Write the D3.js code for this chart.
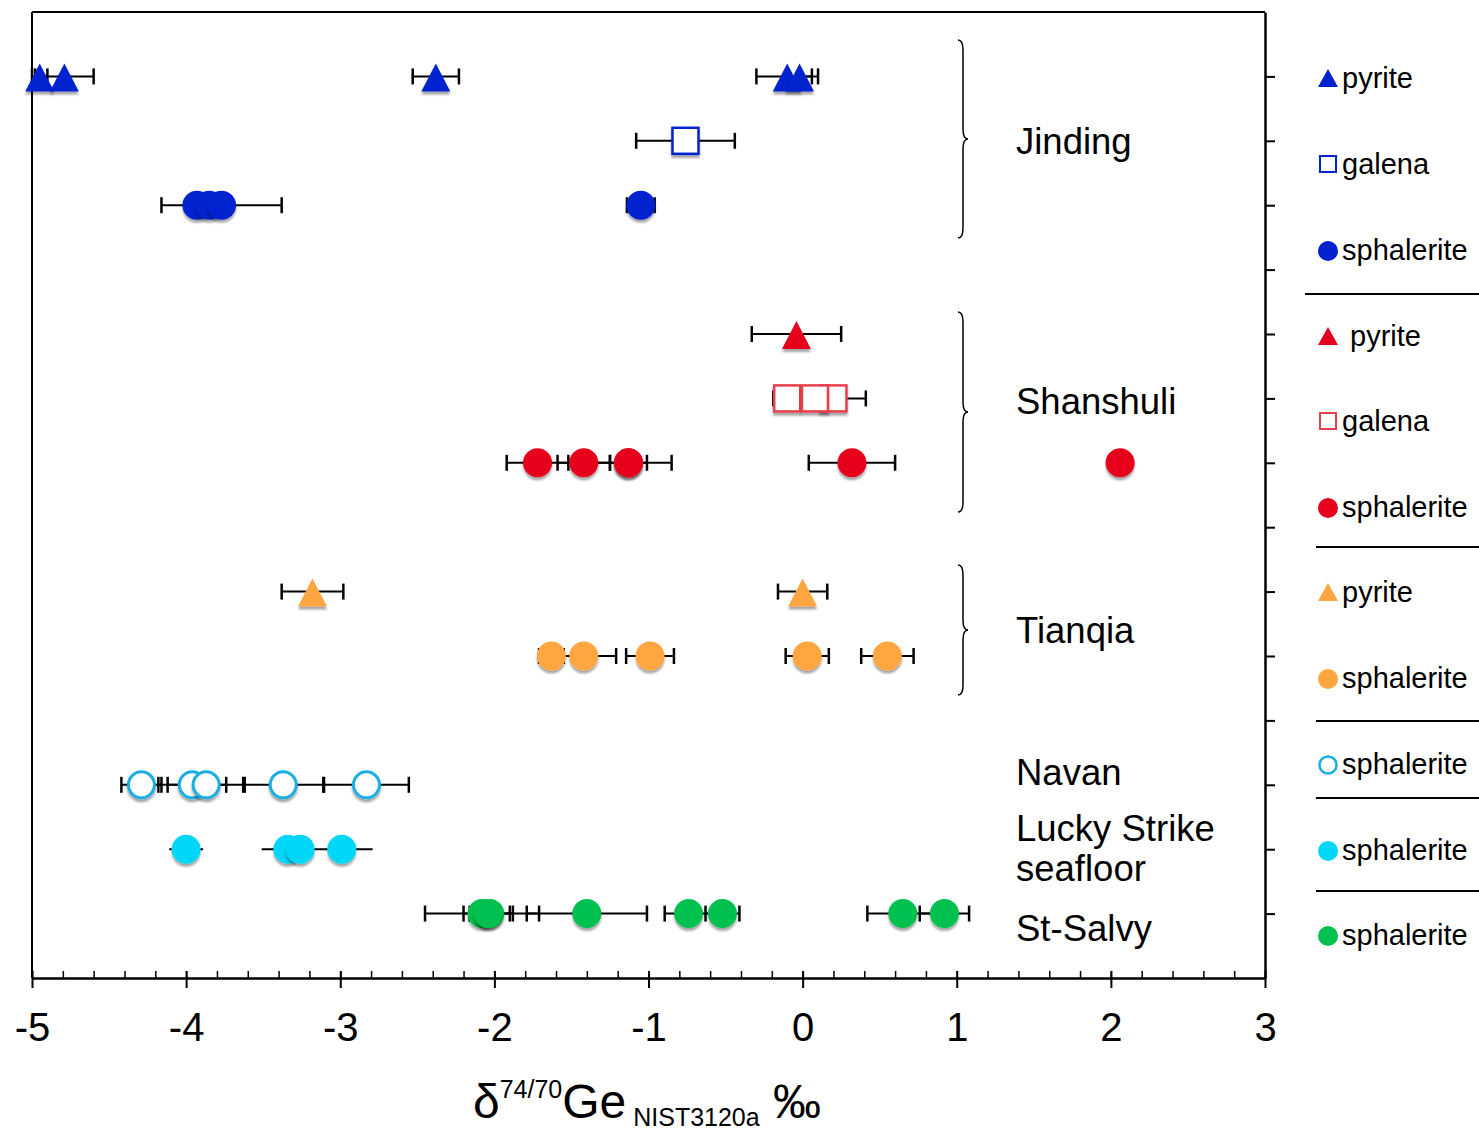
<!DOCTYPE html>
<html><head><meta charset="utf-8">
<script src="https://cdn.jsdelivr.net/npm/d3@7"></script>
<style>body{margin:0;background:#fff}svg{display:block}text{font-family:"Liberation Sans",Arial,Helvetica,sans-serif;fill:#000}</style>
</head><body>
<svg id="chart" width="1479" height="1135"></svg>
<script>
// ---------- data ----------
const xTicks = [-5, -4, -3, -2, -1, 0, 1, 2, 3];
const xMinorTicks = d3.range(-5, 3.001, 0.2).map(v => +v.toFixed(1));
const rowTicks = [1, 2, 3, 4, 5, 6, 7, 8, 9, 10, 11, 12, 13, 14];

const jindingPyrite = [-4.95, -4.79, -2.38, -0.10, -0.02];
const jindingPyriteErr = [0.05, 0.19, 0.15, 0.20, 0.08];
const jindingGalena = [-0.76];
const jindingGalenaErr = [0.32];
const jindingSphalerite = [-3.93, -3.85, -3.77, -1.05];
const jindingSphaleriteErr = [0.05, 0.05, 0.39, 0.09];

const shanshuliPyrite = [-0.04];
const shanshuliPyriteErr = [0.29];
const shanshuliGalena = [-0.10, 0.20, 0.08];
const shanshuliGalenaErr = [0.09, 0.21, 0.10];
const shanshuliSphalerite = [-1.72, -1.42, -1.13, -1.13, 0.32, 2.06];
const shanshuliSphaleriteErr = [0.20, 0.17, 0.12, 0.28, 0.28, 0];

const tianqiaPyrite = [-3.18, 0.00];
const tianqiaPyriteErr = [0.20, 0.16];
const tianqiaSphalerite = [-1.63, -1.42, -0.99, 0.03, 0.55];
const tianqiaSphaleriteErr = [0.08, 0.21, 0.155, 0.14, 0.17];

const navanSphalerite = [-4.29, -3.96, -3.87, -3.37, -2.83];
const navanSphaleriteErr = [0.13, 0.22, 0.25, 0.26, 0.275];

const luckyStrikeSphalerite = [-4.00, -3.34, -3.26, -2.99];
const luckyStrikeSphaleriteErr = [0.11, 0.17, 0.05, 0.20];

const stSalvySphalerite = [-2.08, -2.03, -2.04, -1.40, -0.74, -0.52, 0.65, 0.92];
const stSalvySphaleriteErr = [0.37, 0.13, 0.16, 0.39, 0.155, 0.11, 0.23, 0.16];

const groupLabels = ["Jinding", "Shanshuli", "Tianqia", "Navan", "Lucky Strike", "seafloor", "St-Salvy"];
const legendLabels = ["pyrite", "galena", "sphalerite", " pyrite", "galena", "sphalerite", "pyrite", "sphalerite", "sphalerite", "sphalerite", "sphalerite"];

// ---------- styles ----------
const BLUE = "#0322cf", RED = "#e6001e", RED2 = "#e8404c", ORANGE = "#ffa640", CYAN = "#00d6f7", CYAN2 = "#1aaee2", GREEN = "#00c04f";

const series = [
  {vals: jindingPyrite, err: jindingPyriteErr, row: 1, shape: "tri", color: BLUE},
  {vals: jindingGalena, err: jindingGalenaErr, row: 2, shape: "sq", color: BLUE},
  {vals: jindingSphalerite, err: jindingSphaleriteErr, row: 3, shape: "circ", color: BLUE},
  {vals: shanshuliPyrite, err: shanshuliPyriteErr, row: 5, shape: "tri", color: RED},
  {vals: shanshuliGalena, err: shanshuliGalenaErr, row: 6, shape: "sq", color: RED2},
  {vals: shanshuliSphalerite, err: shanshuliSphaleriteErr, row: 7, shape: "circ", color: RED},
  {vals: tianqiaPyrite, err: tianqiaPyriteErr, row: 9, shape: "tri", color: ORANGE},
  {vals: tianqiaSphalerite, err: tianqiaSphaleriteErr, row: 10, shape: "circ", color: ORANGE},
  {vals: navanSphalerite, err: navanSphaleriteErr, row: 12, shape: "ocirc", color: CYAN2},
  {vals: luckyStrikeSphalerite, err: luckyStrikeSphaleriteErr, row: 13, shape: "circ", color: CYAN, nocap: true},
  {vals: stSalvySphalerite, err: stSalvySphaleriteErr, row: 14, shape: "circ", color: GREEN}
];

// ---------- layout ----------
const svg = d3.select("#chart");
const L = 32, R = 1265, T = 12, B = 978;
const x = d3.scaleLinear().domain([-5, 3]).range([L, R]);
const y = d3.scaleLinear().domain([0, 15]).range([T, B]);

const defs = svg.append("defs");
const f = defs.append("filter").attr("id", "sh").attr("x", "-50%").attr("y", "-50%").attr("width", "200%").attr("height", "200%");
f.append("feDropShadow").attr("dx", 0).attr("dy", 3).attr("stdDeviation", 1.2).attr("flood-color", "#000").attr("flood-opacity", 0.35);

// frame
svg.append("line").attr("x1", L).attr("x2", L).attr("y1", T).attr("y2", B).attr("stroke", "#000").attr("stroke-width", 2);
svg.append("line").attr("x1", L).attr("x2", R).attr("y1", T).attr("y2", T).attr("stroke", "#000").attr("stroke-width", 2);

// right axis
const ra = svg.append("g").attr("transform", `translate(${R},0)`)
  .call(d3.axisRight(y).tickValues(rowTicks).tickSizeInner(10).tickSizeOuter(0).tickFormat(""));
ra.select(".domain").attr("stroke-width", 2.5);
ra.selectAll(".tick line").attr("stroke-width", 2);

// bottom axis minor
const bm = svg.append("g").attr("transform", `translate(0,${B})`)
  .call(d3.axisBottom(x).tickValues(xMinorTicks).tickSizeInner(-7).tickSizeOuter(0).tickFormat(""));
bm.select(".domain").remove();
bm.selectAll(".tick line").attr("stroke-width", 1.5);

// bottom axis major
const ba = svg.append("g").attr("transform", `translate(0,${B})`)
  .call(d3.axisBottom(x).tickValues(xTicks).tickSizeInner(10).tickSizeOuter(0).tickPadding(25).tickFormat(d3.format("d")));
ba.select(".domain").attr("stroke-width", 2.5);
ba.selectAll(".tick line").attr("y1", -7).attr("stroke-width", 2);
ba.selectAll(".tick text").style("font-size", "40px").style("font-family", "Liberation Sans, Arial, sans-serif").attr("fill", "#000")
  .text(d => d < 0 ? "-" + Math.abs(d) : d);

// axis title
const tt = svg.append("text").attr("x", 647).attr("y", 1118).attr("text-anchor", "middle");
tt.append("tspan").style("font-size", "48px").text("δ");
tt.append("tspan").style("font-size", "25px").attr("dy", -20).text("74/70");
tt.append("tspan").style("font-size", "48px").attr("dy", 20).text("Ge");
tt.append("tspan").style("font-size", "25px").attr("dy", 8).text(" NIST3120a");
tt.append("tspan").style("font-size", "48px").attr("dy", -8).text(" ‰");

// markers
function marker(g, shape, color, cx, cy, s) {
  const w = 29 * s, h = 28 * s;
  if (shape === "tri") {
    g.append("path").attr("d", `M${cx},${cy - h / 2}L${cx + w / 2},${cy + h / 2}L${cx - w / 2},${cy + h / 2}Z`).attr("fill", color);
  } else if (shape === "sq") {
    const a = 26 * s;
    g.append("rect").attr("x", cx - a / 2).attr("y", cy - a / 2).attr("width", a).attr("height", a)
      .attr("fill", "#fff").attr("stroke", color).attr("stroke-width", 2.5);
  } else if (shape === "circ") {
    g.append("circle").attr("cx", cx).attr("cy", cy).attr("r", 14.5 * s).attr("fill", color);
  } else if (shape === "ocirc") {
    g.append("circle").attr("cx", cx).attr("cy", cy).attr("r", 13 * s).attr("fill", "#fff").attr("stroke", color).attr("stroke-width", 3);
  }
}

// error bars
const eg = svg.append("g");
series.forEach(sr => {
  const cy = y(sr.row);
  sr.vals.forEach((v, i) => {
    const e = sr.err[i];
    if (!e) return;
    const x0 = Math.max(L, x(v - e)), x1 = x(v + e);
    eg.append("line").attr("x1", x0).attr("x2", x1).attr("y1", cy).attr("y2", cy).attr("stroke", "#000").attr("stroke-width", 2);
    if (!sr.nocap) {
      [v - e, v + e].forEach(c => {
        if (x(c) < L) return;
        eg.append("line").attr("x1", x(c)).attr("x2", x(c)).attr("y1", cy - 8).attr("y2", cy + 8).attr("stroke", "#000").attr("stroke-width", 2.5);
      });
    }
  });
});

// points
const pg = svg.append("g");
series.forEach(sr => {
  const cy = y(sr.row);
  sr.vals.forEach(v => {
    const g = pg.append("g").attr("filter", "url(#sh)");
    marker(g, sr.shape, sr.color, x(v), cy + (sr.shape === "tri" ? 1 : 0), 1);
  });
});

// braces
function brace(x0, y0, y1, ym) {
  const s = x0 + 5;
  return `M${x0},${y0}Q${s},${y0} ${s},${y0 + 10}L${s},${ym - 10}Q${s},${ym} ${s + 5},${ym}Q${s},${ym} ${s},${ym + 10}L${s},${y1 - 10}Q${s},${y1} ${x0},${y1}`;
}
const braces = [[40, 238, 139], [312, 512, 412], [565, 695, 630]];
braces.forEach(b => svg.append("path").attr("d", brace(958, b[0], b[1], b[2])).attr("fill", "none").attr("stroke", "#000").attr("stroke-width", 1.5));

// group labels
const gl = [[141, 0], [401, 1], [630, 2], [772, 3], [828, 4], [868, 5], [928, 6]];
gl.forEach(d => svg.append("text").attr("x", 1016).attr("y", d[0]).attr("dy", "0.35em").style("font-size", "36.5px").text(groupLabels[d[1]]));

// legend
const legendY = [78, 164, 250, 336, 421, 507, 592, 678, 764, 850, 935];
const legendShape = ["tri", "sq", "circ", "tri", "sq", "circ", "tri", "circ", "ocirc", "circ", "circ"];
const legendColor = [BLUE, BLUE, BLUE, RED, RED2, RED, ORANGE, ORANGE, CYAN2, CYAN, GREEN];
legendY.forEach((ly, i) => {
  const g = svg.append("g");
  const sh = legendShape[i];
  if (sh === "tri") g.append("path").attr("d", `M1328,${ly - 9}L1338,${ly + 9}L1318,${ly + 9}Z`).attr("fill", legendColor[i]);
  else if (sh === "sq") g.append("rect").attr("x", 1320).attr("y", ly - 8).attr("width", 16).attr("height", 16).attr("fill", "#fff").attr("stroke", legendColor[i]).attr("stroke-width", 2);
  else if (sh === "circ") g.append("circle").attr("cx", 1328).attr("cy", ly + 1).attr("r", 10).attr("fill", legendColor[i]);
  else g.append("circle").attr("cx", 1328).attr("cy", ly + 1).attr("r", 8.5).attr("fill", "#fff").attr("stroke", legendColor[i]).attr("stroke-width", 2.5);
  g.append("text").attr("x", 1342).attr("y", ly).attr("dy", "0.35em").style("font-size", "29px").style("white-space", "pre").attr("xml:space", "preserve").text(legendLabels[i]);
});
const seps = [[294, 1305], [547, 1316], [721, 1316], [798, 1316], [891, 1316]];
seps.forEach(s => svg.append("line").attr("x1", s[1]).attr("x2", 1479).attr("y1", s[0]).attr("y2", s[0]).attr("stroke", "#000").attr("stroke-width", 2));
</script>
</body></html>
